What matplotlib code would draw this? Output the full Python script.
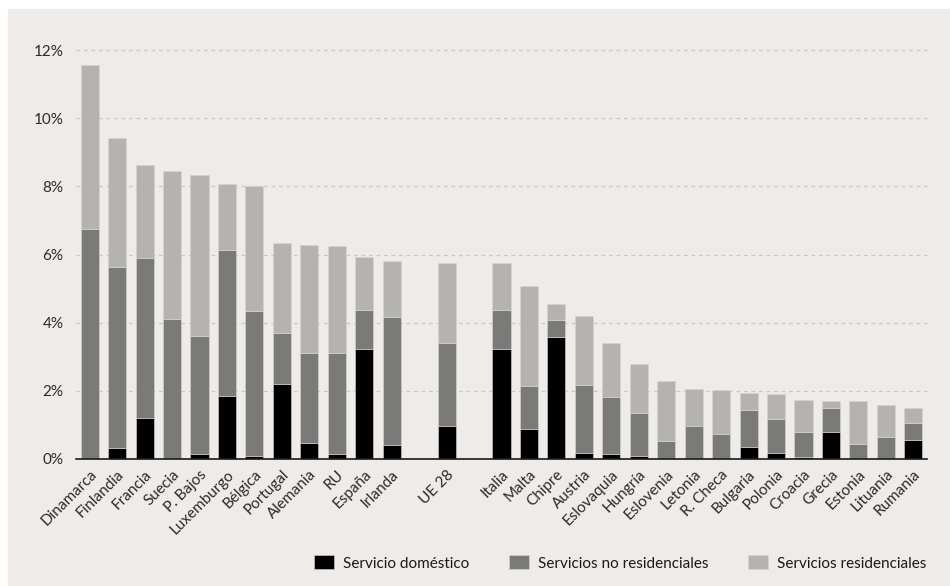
import numpy as np
import matplotlib.pyplot as plt
from matplotlib.patches import Rectangle
from matplotlib.ticker import FuncFormatter

plt.rcParams['font.family'] = ['Lato', 'DejaVu Sans']

paises = ['Dinamarca', 'Finlandia', 'Francia', 'Suecia', 'P. Bajos', 'Luxemburgo',
          'Bélgica', 'Portugal', 'Alemania', 'RU', 'España', 'Irlanda',
          'UE 28',
          'Italia', 'Malta', 'Chipre', 'Austria', 'Eslovaquia', 'Hungría',
          'Eslovenia', 'Letonia', 'R. Checa', 'Bulgaria', 'Polonia', 'Croacia',
          'Grecia', 'Estonia', 'Lituania', 'Rumania']

# acumulados (%): servicio doméstico, + no residenciales, total
domestico = [0.00, 0.32, 1.19, 0.00, 0.14, 1.84, 0.10, 2.21, 0.48, 0.14, 3.23, 0.42,
             0.97,
             3.23, 0.88, 3.58, 0.18, 0.14, 0.10, 0.00, 0.00, 0.00, 0.35, 0.18, 0.06,
             0.78, 0.00, 0.00, 0.55]
hasta_no_res = [6.75, 5.64, 5.90, 4.10, 3.61, 6.14, 4.33, 3.70, 3.11, 3.11, 4.37, 4.16,
                3.41,
                4.37, 2.13, 4.09, 2.17, 1.83, 1.35, 0.53, 0.98, 0.73, 1.43, 1.16, 0.78,
                1.51, 0.44, 0.66, 1.07]
total = [11.56, 9.42, 8.64, 8.44, 8.32, 8.06, 8.02, 6.35, 6.27, 6.24, 5.94, 5.81,
         5.74,
         5.74, 5.09, 4.56, 4.21, 3.40, 2.80, 2.29, 2.06, 2.01, 1.93, 1.91, 1.74,
         1.70, 1.69, 1.58, 1.51]

domestico = np.array(domestico)
no_residencial = np.array(hasta_no_res) - domestico
residencial = np.array(total) - np.array(hasta_no_res)

# huecos antes y después de UE 28
x = np.array(list(range(12)) + [13] + list(range(15, 31)))

fig = plt.figure(figsize=(9.5, 5.86), dpi=100)
fig.patches.append(Rectangle((8 / 950, 0), 1, 1 - 9 / 586, transform=fig.transFigure,
                             color='#eeebe8', zorder=-10))
ax = fig.add_axes([76 / 950, 1 - 459 / 586, 851 / 950, 409 / 586])
ax.set_facecolor('none')

w = 0.66
b1 = ax.bar(x, domestico, w, color='#000000', edgecolor='#d8d6d3', linewidth=0.4,
            label='Servicio doméstico', zorder=3)
b2 = ax.bar(x, no_residencial, w, bottom=domestico, color='#7a7a79', edgecolor='#d8d6d3',
            linewidth=0.4, label='Servicios no residenciales', zorder=3)
b3 = ax.bar(x, residencial, w, bottom=domestico + no_residencial, color='#b4b3b2',
            edgecolor='#d8d6d3', linewidth=0.4, label='Servicios residenciales', zorder=3)

ax.set_xlim(-0.5, 30.5)
ax.set_ylim(0, 12)
ax.set_yticks(np.arange(0, 13, 2))
ax.yaxis.set_major_formatter(FuncFormatter(lambda v, p: '%d%%' % v))
ax.set_xticks(x)
ax.set_xticklabels(paises, rotation=45, ha='right', rotation_mode='anchor')
ax.tick_params(axis='both', length=0, labelsize=11, colors='#2b2b2b')
ax.tick_params(axis='y', pad=9)
ax.tick_params(axis='x', pad=6)

for y in range(2, 13, 2):
    ax.axhline(y, color='#c9c8c6', linewidth=0.9, linestyle=(0, (3, 3)), zorder=1,
               clip_on=False)
for s in ['top', 'right', 'left']:
    ax.spines[s].set_visible(False)
ax.spines['bottom'].set_color('#1a1a1a')
ax.spines['bottom'].set_linewidth(1.2)
ax.spines['bottom'].set_zorder(4)

fig.legend(handles=[b1, b2, b3], loc='center right', bbox_to_anchor=(0.99, 1 - 563 / 586),
           ncol=3, frameon=False, fontsize=11, handlelength=1.3, handleheight=1.0,
           handletextpad=0.6, columnspacing=2.6, labelcolor='#1a1a1a')

plt.savefig('out.png', dpi=100, facecolor='white')
